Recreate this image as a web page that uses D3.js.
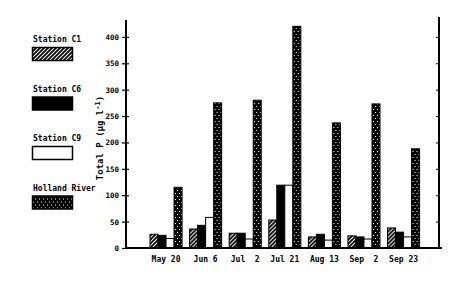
<!DOCTYPE html>
<html>
<head>
<meta charset="utf-8">
<script src="https://cdn.jsdelivr.net/npm/d3@7"></script>
<style>
  body { margin: 0; background: #fff; }
  text { font-family: "DejaVu Sans Mono", monospace; font-weight: bold; fill: #000; }
</style>
</head>
<body>
<div id="chart"></div>
<script>
var dates = ["May 20", "Jun 6", "Jul  2", "Jul 21", "Aug 13", "Sep  2", "Sep 23"];
var seriesNames = ["Station C1", "Station C6", "Station C9", "Holland River"];
var stationC1 = [26, 36, 28, 53, 21, 23, 38];
var stationC6 = [24, 43, 28, 119, 26, 21, 30];
var stationC9 = [18, 58, 17, 119, 15, 17, 21];
var hollandRiver = [115, 275, 280, 420, 237, 273, 188];
var yTicks = [0, 50, 100, 150, 200, 250, 300, 350, 400];

var allSeries = [stationC1, stationC6, stationC9, hollandRiver];
var fills = ["url(#hatch)", "#000", "#fff", "url(#dots)"];

var width = 466, height = 286;

var svg = d3.select("#chart")
  .append("svg")
  .attr("width", width)
  .attr("height", height);

var defs = svg.append("defs");

// diagonal hatch for C1
var hatch = defs.append("pattern")
  .attr("id", "hatch")
  .attr("patternUnits", "userSpaceOnUse")
  .attr("width", 4)
  .attr("height", 4);
hatch.append("rect").attr("width", 4).attr("height", 4).attr("fill", "#fff");
hatch.append("path")
  .attr("d", "M-1,1 l2,-2 M0,4 l4,-4 M3,5 l2,-2")
  .attr("stroke", "#000")
  .attr("stroke-width", 1.8);

// black with sparse white speckles for Holland River
var dots = defs.append("pattern")
  .attr("id", "dots")
  .attr("patternUnits", "userSpaceOnUse")
  .attr("width", 4)
  .attr("height", 6);
dots.append("rect").attr("width", 4).attr("height", 6).attr("fill", "#000");
dots.append("rect").attr("x", 1).attr("y", 1).attr("width", 1).attr("height", 1).attr("fill", "#fff");
dots.append("rect").attr("x", 3).attr("y", 4).attr("width", 1).attr("height", 1).attr("fill", "#fff");

var x = d3.scaleBand()
  .domain(dates)
  .range([150, 419.6])
  .paddingInner(0.19)
  .paddingOuter(0);

var xInner = d3.scaleBand()
  .domain(d3.range(seriesNames.length))
  .range([0, x.bandwidth()]);

var y = d3.scaleLinear()
  .domain([0, 432])
  .range([248, 20]);

// bars
var groups = svg.selectAll(".group")
  .data(dates)
  .enter().append("g")
  .attr("class", "group")
  .attr("transform", d => `translate(${x(d)},0)`);

groups.selectAll("rect")
  .data((d, i) => allSeries.map((s, k) => ({ k: k, value: s[i] })))
  .enter().append("rect")
  .attr("x", d => xInner(d.k))
  .attr("y", d => y(d.value))
  .attr("width", xInner.bandwidth())
  .attr("height", d => y(0) - y(d.value))
  .attr("fill", d => fills[d.k])
  .attr("stroke", "#000")
  .attr("stroke-width", 1);

// left axis
var yAxis = svg.append("g")
  .attr("transform", "translate(126,0)")
  .call(d3.axisLeft(y).tickValues(yTicks).tickSize(4).tickPadding(3));
yAxis.select(".domain").remove();
yAxis.selectAll(".tick line").attr("x1", 3).attr("stroke-width", 1.2);
yAxis.selectAll(".tick text")
  .style("font-size", "7.5px")
  .style("font-family", "DejaVu Sans Mono, monospace")
  .style("font-weight", "bold");

svg.append("line")
  .attr("x1", 126).attr("x2", 126)
  .attr("y1", y.range()[1]).attr("y2", y(0) + 1)
  .attr("stroke", "#000").attr("stroke-width", 2);

// right axis, ticks only
var yAxisR = svg.append("g")
  .attr("transform", "translate(439,0)")
  .call(d3.axisLeft(y).tickValues(yTicks.slice(1)).tickSize(3).tickFormat(""));
yAxisR.select(".domain").remove();
svg.append("line")
  .attr("x1", 439).attr("x2", 439)
  .attr("y1", 17).attr("y2", y(0) + 1)
  .attr("stroke", "#000").attr("stroke-width", 2);

// baseline
svg.append("line")
  .attr("x1", 125).attr("x2", 442)
  .attr("y1", y(0)).attr("y2", y(0))
  .attr("stroke", "#000").attr("stroke-width", 2);

// date labels
svg.selectAll(".xlabel")
  .data(dates)
  .enter().append("text")
  .attr("class", "xlabel")
  .attr("x", d => x(d) + x.bandwidth() / 2)
  .attr("y", 262)
  .attr("text-anchor", "middle")
  .style("font-size", "8px")
  .style("white-space", "pre")
  .attr("xml:space", "preserve")
  .text(d => d);

// y title
var title = svg.append("text")
  .attr("transform", "translate(103,138) rotate(-90)")
  .attr("text-anchor", "middle")
  .style("font-size", "9px");
title.append("tspan").text("Total P  (µg l");
title.append("tspan").attr("dy", -3).style("font-size", "7px").text("-1");
title.append("tspan").attr("dy", 3).text(")");

// legend
var legend = svg.selectAll(".legend")
  .data(seriesNames)
  .enter().append("g")
  .attr("class", "legend")
  .attr("transform", (d, i) => `translate(32,${40 + i * 49.5})`);

legend.append("text")
  .attr("x", 1)
  .attr("y", 2)
  .style("font-size", "8px")
  .text(d => d);

legend.append("rect")
  .attr("x", 0.5)
  .attr("y", 7.5)
  .attr("width", 40)
  .attr("height", 13)
  .attr("fill", (d, i) => fills[i])
  .attr("stroke", "#000")
  .attr("stroke-width", 1.5);
</script>
</body>
</html>
